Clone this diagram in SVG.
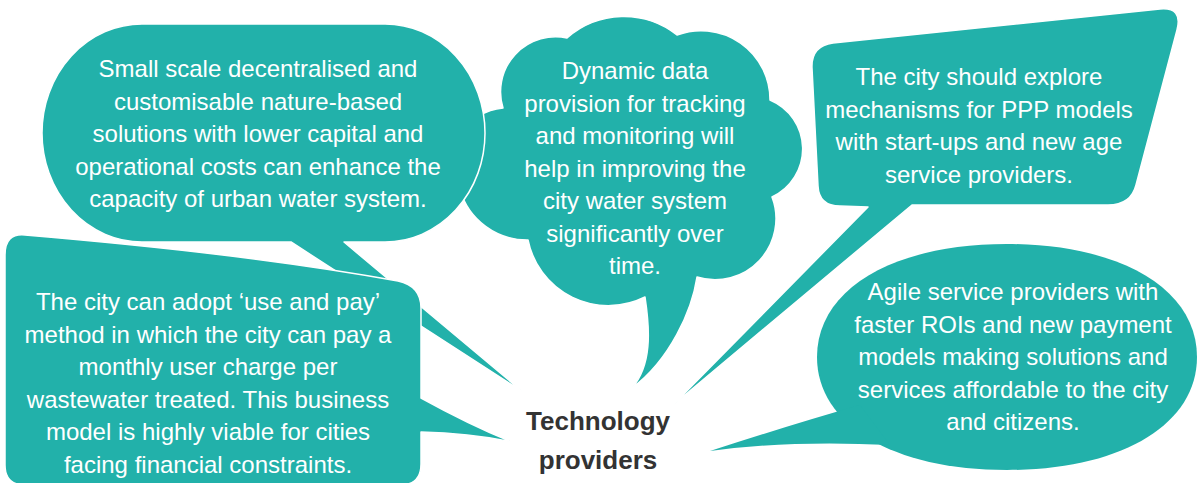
<svg xmlns="http://www.w3.org/2000/svg" width="1197" height="483" viewBox="0 0 1197 483">
<style>
.b{fill:#22B1AA;stroke:#ffffff;stroke-width:1.5;stroke-linejoin:round}
.f{fill:#22B1AA}
.t{font-family:"Liberation Sans",Arial,sans-serif;font-size:24px;fill:#ffffff;text-anchor:middle}
.c{font-family:"Liberation Sans",Arial,sans-serif;font-size:26px;font-weight:bold;fill:#333333;text-anchor:middle}
</style>
<rect width="1197" height="483" fill="#ffffff"/>
<g id="connectors"></g>
<g id="cloud">
<path class="b" d="M 503 108 A 55 55 0 0 1 567 38 A 86 86 0 0 1 677 35 A 69 69 0 0 1 770 100 A 53 53 0 0 1 772 197 A 61 61 0 0 1 697 277 C 692 310 670 360 632 388 C 652 365 650 330 645 297 A 82 82 0 0 1 528 240 A 70 70 0 0 1 460 190 A 55 55 0 0 1 503 108 Z"/>
<text class="t" x="635" y="79">Dynamic data</text>
<text class="t" x="635" y="111.5">provision for tracking</text>
<text class="t" x="635" y="144">and monitoring will</text>
<text class="t" x="635" y="176.5">help in improving the</text>
<text class="t" x="635" y="209">city water system</text>
<text class="t" x="635" y="241.5">significantly over</text>
<text class="t" x="635" y="274">time.</text>
</g>
<g id="bubble1">
<path class="b" d="M 142 24 H 385 A 100 109 0 0 1 485 133 A 100 109 0 0 1 385 242 H 344 L 523 392 L 291 242 H 142 A 100 109 0 0 1 42 133 A 100 109 0 0 1 142 24 Z"/>
<text class="t" x="258" y="77">Small scale decentralised and</text>
<text class="t" x="258" y="109.5">customisable nature-based</text>
<text class="t" x="258" y="142">solutions with lower capital and</text>
<text class="t" x="258" y="174.5">operational costs can enhance the</text>
<text class="t" x="258" y="207">capacity of urban water system.</text>
</g>
<g id="bubble3">
<path class="b" d="M 833 43 L 1160 9 Q 1183 7 1177 30 L 1136 185 Q 1131 205 1108 205 L 912 205 L 673 405 L 868 207 L 840 206 Q 819 206 818 186 L 812 68 Q 811 46 833 43 Z"/>
<text class="t" x="979" y="85">The city should explore</text>
<text class="t" x="979" y="117.5">mechanisms for PPP models</text>
<text class="t" x="979" y="150">with start-ups and new age</text>
<text class="t" x="979" y="182.5">service providers.</text>
</g>
<g id="bubble4">
<path class="b" d="M 25 235 Q 250 254 398 281 Q 421 286 421 308 V 398 Q 470 425 512 442 Q 470 433 421 432 V 464 Q 421 485 400 485 H 25 Q 5 485 5 465 V 255 Q 5 233 25 235 Z"/>
<text class="t" x="208" y="310">The city can adopt ‘use and pay’</text>
<text class="t" x="208" y="342.5">method in which the city can pay a</text>
<text class="t" x="208" y="375">monthly user charge per</text>
<text class="t" x="208" y="407.5">wastewater treated. This business</text>
<text class="t" x="208" y="440">model is highly viable for cities</text>
<text class="t" x="208" y="472.5">facing financial constraints.</text>
</g>
<g id="bubble5">
<path class="f" d="M 1007 244 C 1121 244 1197 289.2 1197 357 C 1197 424.8 1121 470 1007 470 C 893 470 817 424.8 817 357 C 817 289.2 893 244 1007 244 Z"/>
<path class="f" d="M 860 405 Q 790 425 710 451 Q 790 440 890 445 Z"/>
<text class="t" x="1013" y="300">Agile service providers with</text>
<text class="t" x="1013" y="332.5">faster ROIs and new payment</text>
<text class="t" x="1013" y="365">models making solutions and</text>
<text class="t" x="1013" y="397.5">services affordable to the city</text>
<text class="t" x="1013" y="430">and citizens.</text>
</g>
<g id="center">
<text class="c" x="598" y="430">Technology</text>
<text class="c" x="598" y="469">providers</text>
</g>
</svg>
